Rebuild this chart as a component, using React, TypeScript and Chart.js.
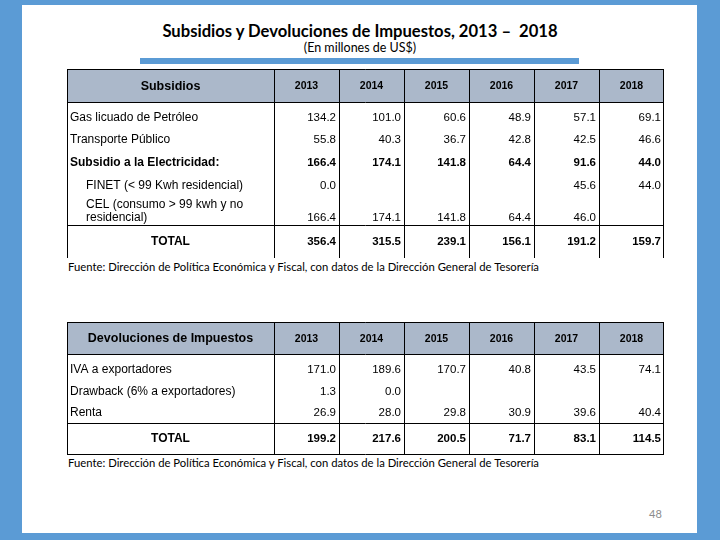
import React, { useEffect, useRef } from "react";
import { Chart, registerables } from "chart.js";

Chart.register(...registerables);

// ---------------- DATA ----------------
const years = ["2013", "2014", "2015", "2016", "2017", "2018"];

const subsidiosTitle = "Subsidios";
const subsidiosLabels: (string | string[])[] = [
  "Gas licuado de Petróleo",
  "Transporte Público",
  "Subsidio a la Electricidad:",
  "FINET (< 99 Kwh residencial)",
  ["CEL (consumo > 99 kwh y no", "residencial)"],
  "TOTAL",
];
const gasLicuado = [134.2, 101.0, 60.6, 48.9, 57.1, 69.1];
const transportePublico = [55.8, 40.3, 36.7, 42.8, 42.5, 46.6];
const subsidioElectricidad = [166.4, 174.1, 141.8, 64.4, 91.6, 44.0];
const finet = [0.0, null, null, null, 45.6, 44.0];
const cel = [166.4, 174.1, 141.8, 64.4, 46.0, null];
const totalSubsidios = [356.4, 315.5, 239.1, 156.1, 191.2, 159.7];

const devolucionesTitle = "Devoluciones de Impuestos";
const devolucionesLabels: (string | string[])[] = [
  "IVA a exportadores",
  "Drawback (6% a exportadores)",
  "Renta",
  "TOTAL",
];
const ivaExportadores = [171.0, 189.6, 170.7, 40.8, 43.5, 74.1];
const drawback = [1.3, 0.0, null, null, null, null];
const renta = [26.9, 28.0, 29.8, 30.9, 39.6, 40.4];
const totalDevoluciones = [199.2, 217.6, 200.5, 71.7, 83.1, 114.5];

const mainTitle = "Subsidios y Devoluciones de Impuestos, 2013 –  2018";
const subTitle = "(En millones de US$)";
const sourceNote =
  "Fuente: Dirección de Política Económica y Fiscal, con datos de la Dirección General de Tesorería";
const pageNumber = "48";

// ---------------- LAYOUT / STYLE ----------------
const BLUE = "#5B9BD5";
const HEADER_BG = "#ABB8CA";
const TABLE_FONT = '"Liberation Sans", Arial, sans-serif';

type RowStyle = { bold?: boolean; indent?: number; center?: boolean; totalSep?: boolean };

interface TableSpec {
  title: string;
  labels: (string | string[])[];
  series: (number | null)[][];
  rowSpans: number[];
  rowStyles: RowStyle[];
  topPad: number;
  bottomBorder: boolean;
  left: number;
  top: number;
  width: number;
  height: number;
  headerH: number;
  labelW: number;
}

const table1: TableSpec = {
  title: subsidiosTitle,
  labels: subsidiosLabels,
  series: [gasLicuado, transportePublico, subsidioElectricidad, finet, cel, totalSubsidios],
  rowSpans: [1, 1, 1, 1, 1.25, 1.45],
  rowStyles: [{}, {}, { bold: true }, { indent: 16 }, { indent: 16 }, { bold: true, center: true, totalSep: true }],
  topPad: 0.18,
  bottomBorder: false,
  left: 67,
  top: 69,
  width: 597,
  height: 189,
  headerH: 33,
  labelW: 207,
};

const table2: TableSpec = {
  title: devolucionesTitle,
  labels: devolucionesLabels,
  series: [ivaExportadores, drawback, renta, totalDevoluciones],
  rowSpans: [1, 1, 0.85, 1.42],
  rowStyles: [{}, {}, {}, { bold: true, center: true, totalSep: true }],
  topPad: 0.18,
  bottomBorder: true,
  left: 67,
  top: 322,
  width: 597,
  height: 133,
  headerH: 32,
  labelW: 207,
};

const tablePlugin = {
  id: "tableDraw",
  afterDraw(chart: any) {
    const spec: TableSpec = chart.options.plugins.tableDraw.spec;
    const ctx: CanvasRenderingContext2D = chart.ctx;
    const ca = chart.chartArea;
    const xs = chart.scales.x;
    const ys = chart.scales.y;
    const W = chart.width;
    const H = chart.height;
    const n = xs.ticks.length;
    const colW = (ca.right - ca.left) / n;
    const px = (v: number) => Math.round(v) + 0.5;

    ctx.save();
    // header background
    ctx.fillStyle = HEADER_BG;
    ctx.fillRect(0, 0, ca.right, ca.top);

    // header texts
    ctx.fillStyle = "#000";
    ctx.textBaseline = "middle";
    ctx.textAlign = "center";
    ctx.font = `bold 12.5px ${TABLE_FONT}`;
    ctx.fillText(spec.title, ca.left / 2, ca.top / 2 + 1);
    ctx.font = `bold 10.5px ${TABLE_FONT}`;
    xs.ticks.forEach((t: any, i: number) => {
      ctx.fillText(xs.getLabelForValue(t.value), xs.getPixelForTick(i), ca.top / 2 + 1);
    });

    // rows
    chart.data.datasets.forEach((ds: any, r: number) => {
      const st: RowStyle = spec.rowStyles[r];
      const yc = ys.getPixelForValue(ds.rowCenter);
      const weight = st.bold ? "bold " : "";
      ctx.font = `${weight}12px ${TABLE_FONT}`;
      ctx.fillStyle = "#000";
      const lab = ds.label2;
      const multi = Array.isArray(lab);
      if (st.center) {
        ctx.textAlign = "center";
        ctx.fillText(lab as string, ca.left / 2, yc);
      } else {
        ctx.textAlign = "left";
        const x0 = 3 + (st.indent || 0);
        if (multi) {
          (lab as string[]).forEach((line, k) => {
            ctx.fillText(line, x0, yc + (k - ((lab as string[]).length - 1) / 2) * 13);
          });
        } else {
          ctx.fillText(lab as string, x0, yc);
        }
      }
      // values
      ctx.font = `${weight}11.5px ${TABLE_FONT}`;
      const meta = chart.getDatasetMeta(r);
      const vOff = multi ? 6.5 : 0;
      ctx.textAlign = "right";
      meta.data.forEach((el: any, i: number) => {
        const v = ds.values[i];
        if (v === null || v === undefined) return;
        ctx.fillText(v.toFixed(1), el.x + colW / 2 - 3, el.y + vOff);
      });
      if (st.totalSep) {
        const ySep = ys.getPixelForValue(ds.rowTop);
        ctx.strokeStyle = "#000";
        ctx.lineWidth = 1;
        ctx.beginPath();
        ctx.moveTo(0, px(ySep));
        ctx.lineTo(ca.right, px(ySep));
        ctx.stroke();
      }
    });

    // grid lines
    ctx.strokeStyle = "#000";
    ctx.lineWidth = 1;
    ctx.beginPath();
    ctx.moveTo(0.5, 0);
    ctx.lineTo(0.5, H);
    for (let i = 0; i <= n; i++) {
      let x = px(ca.left + i * colW);
      if (x > W) x = W - 0.5;
      ctx.moveTo(x, 0);
      ctx.lineTo(x, H);
    }
    ctx.moveTo(0, 0.5);
    ctx.lineTo(ca.right, 0.5);
    ctx.moveTo(0, px(ca.top));
    ctx.lineTo(ca.right, px(ca.top));
    if (spec.bottomBorder) {
      ctx.moveTo(0, H - 0.5);
      ctx.lineTo(ca.right, H - 0.5);
    }
    ctx.stroke();
    ctx.restore();
  },
};

function TableChart({ spec }: { spec: TableSpec }) {
  const ref = useRef<HTMLCanvasElement>(null);
  useEffect(() => {
    const total = spec.topPad + spec.rowSpans.reduce((a, b) => a + b, 0);
    let acc = spec.topPad;
    const datasets = spec.series.map((vals, r) => {
      const rowTop = acc;
      const center = acc + spec.rowSpans[r] / 2;
      acc += spec.rowSpans[r];
      return {
        label: Array.isArray(spec.labels[r]) ? (spec.labels[r] as string[]).join(" ") : (spec.labels[r] as string),
        label2: spec.labels[r],
        values: vals,
        rowCenter: center,
        rowTop,
        data: vals.map((_, i) => ({ x: years[i], y: center })),
        showLine: false,
        pointRadius: 0,
        pointHoverRadius: 0,
        borderColor: "transparent",
        backgroundColor: "transparent",
      } as any;
    });
    const chart = new Chart(ref.current!, {
      type: "line",
      data: { labels: years, datasets },
      options: {
        animation: false,
        responsive: false,
        maintainAspectRatio: false,
        devicePixelRatio: 1,
        events: [],
        layout: { padding: 0 },
        plugins: {
          legend: { display: false },
          tooltip: { enabled: false },
          title: { display: false },
          tableDraw: { spec },
        } as any,
        scales: {
          x: {
            type: "category",
            position: "top",
            offset: true,
            grid: { display: false },
            border: { display: false },
            ticks: { display: false },
            afterFit: (s: any) => {
              s.height = spec.headerH;
            },
          },
          y: {
            type: "linear",
            position: "left",
            min: 0,
            max: total,
            reverse: true,
            grid: { display: false },
            border: { display: false },
            ticks: { display: false },
            afterFit: (s: any) => {
              s.width = spec.labelW;
            },
          },
        },
      },
      plugins: [tablePlugin as any],
    });
    return () => chart.destroy();
  }, [spec]);
  return (
    <canvas
      ref={ref}
      width={spec.width}
      height={spec.height}
      style={{ position: "absolute", left: spec.left, top: spec.top, width: spec.width, height: spec.height }}
    />
  );
}

const textFont = 'Lato, "Open Sans", sans-serif';

export default function App() {
  return (
    <div
      style={{
        position: "fixed",
        left: 0,
        top: 0,
        width: 720,
        height: 540,
        background: BLUE,
        overflow: "hidden",
      }}
    >
      <div style={{ position: "absolute", left: 22, top: 5, width: 675, height: 528, background: "#fff" }} />
      <div
        style={{
          position: "absolute",
          left: 0,
          width: 720,
          top: 21,
          textAlign: "center",
          fontFamily: textFont,
          fontWeight: 700,
          fontSize: 16.6,
          lineHeight: "20px",
          color: "#000",
          whiteSpace: "pre",
        }}
      >
        {mainTitle}
      </div>
      <div
        style={{
          position: "absolute",
          left: 0,
          width: 720,
          top: 40,
          textAlign: "center",
          fontFamily: textFont,
          fontSize: 12.5,
          lineHeight: "16px",
          color: "#000",
        }}
      >
        {subTitle}
      </div>
      <div style={{ position: "absolute", left: 140, top: 58, width: 439, height: 6, background: BLUE }} />
      <TableChart spec={table1} />
      <div
        style={{
          position: "absolute",
          left: 68,
          top: 259,
          fontFamily: textFont,
          fontSize: 11.3,
          lineHeight: "16px",
          color: "#000",
          whiteSpace: "nowrap",
        }}
      >
        {sourceNote}
      </div>
      <TableChart spec={table2} />
      <div
        style={{
          position: "absolute",
          left: 68,
          top: 455,
          fontFamily: textFont,
          fontSize: 11.3,
          lineHeight: "16px",
          color: "#000",
          whiteSpace: "nowrap",
        }}
      >
        {sourceNote}
      </div>
      <div
        style={{
          position: "absolute",
          left: 649,
          top: 507,
          fontFamily: textFont,
          fontSize: 11,
          lineHeight: "14px",
          color: "#8C8C8C",
        }}
      >
        {pageNumber}
      </div>
    </div>
  );
}
